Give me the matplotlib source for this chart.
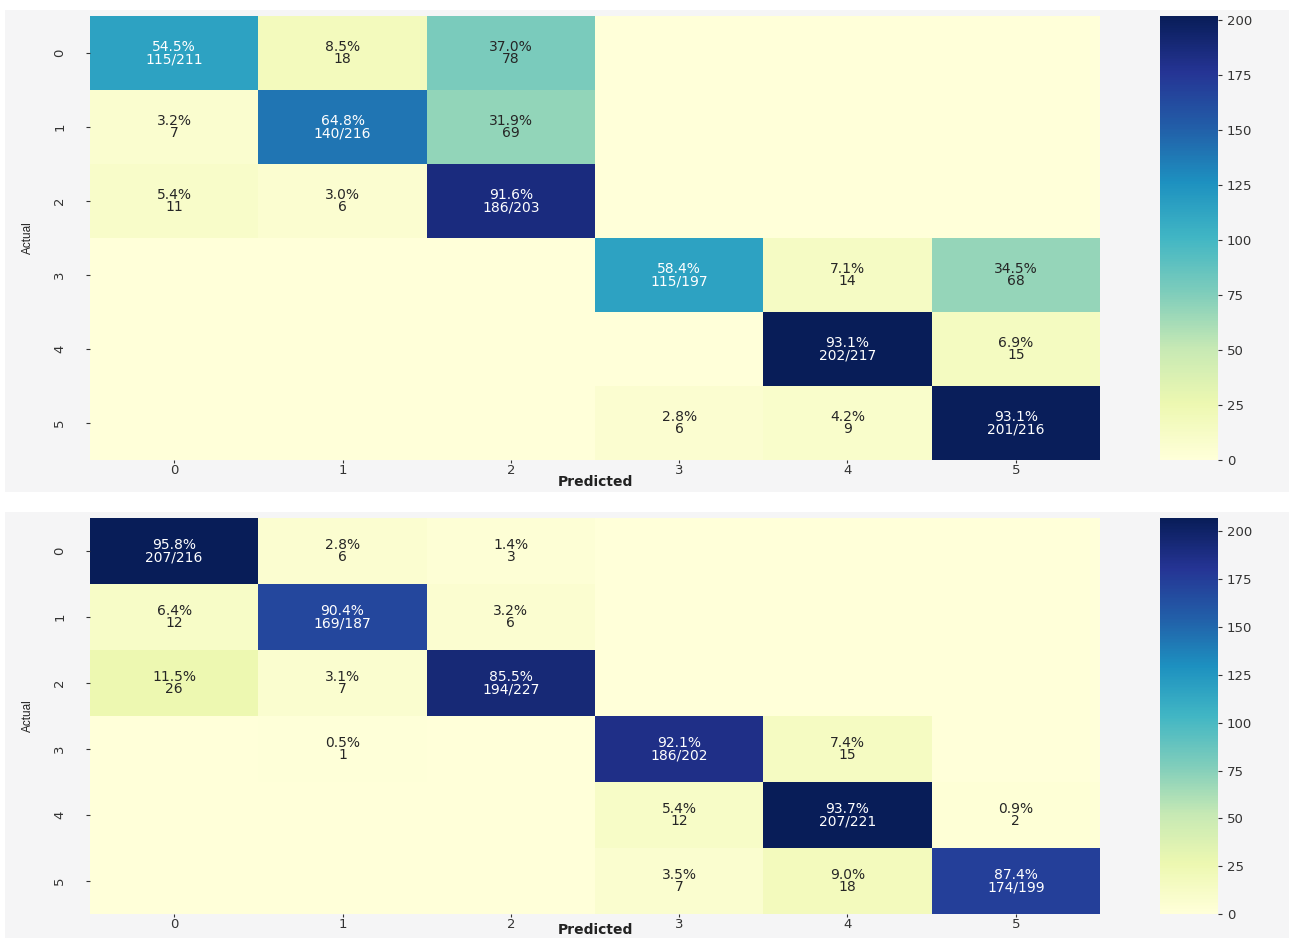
import numpy as np
import matplotlib
matplotlib.use("Agg")
import matplotlib.pyplot as plt
from matplotlib.patches import Rectangle
import seaborn as sns

# Class labels shared by both confusion matrices
classes = ["0", "1", "2", "3", "4", "5"]

# Confusion matrix counts (rows = actual, columns = predicted)
cm_first = [
    [115, 18, 78, 0, 0, 0],
    [7, 140, 69, 0, 0, 0],
    [11, 6, 186, 0, 0, 0],
    [0, 0, 0, 115, 14, 68],
    [0, 0, 0, 0, 202, 15],
    [0, 0, 0, 6, 9, 201],
]

cm_second = [
    [207, 6, 3, 0, 0, 0],
    [12, 169, 6, 0, 0, 0],
    [26, 7, 194, 0, 0, 0],
    [0, 1, 0, 186, 15, 0],
    [0, 0, 0, 12, 207, 2],
    [0, 0, 0, 7, 18, 174],
]


def cell_labels(cm):
    cm = np.asarray(cm)
    row_sums = cm.sum(axis=1, keepdims=True)
    pct = cm / row_sums * 100
    labels = np.empty(cm.shape, dtype=object)
    for i in range(cm.shape[0]):
        for j in range(cm.shape[1]):
            c = cm[i, j]
            if c == 0:
                labels[i, j] = ""
            elif i == j:
                labels[i, j] = f"{pct[i, j]:.1f}%\n{c}/{row_sums[i, 0]}"
            else:
                labels[i, j] = f"{pct[i, j]:.1f}%\n{c}"
    return labels


W, H = 1289, 938
fig = plt.figure(figsize=(W / 100, H / 100), dpi=100)
fig.patch.set_facecolor("white")


def fx(px):
    return px / W


def fy(py):
    return 1 - py / H


panel_bg = "#f5f5f6"
# Grey panel backgrounds
fig.patches.append(Rectangle((fx(5), fy(492)), 1 - fx(5), (492 - 10) / H,
                             transform=fig.transFigure, facecolor=panel_bg,
                             edgecolor="none", zorder=-10))
fig.patches.append(Rectangle((fx(5), 0), 1 - fx(5), (938 - 512) / H,
                             transform=fig.transFigure, facecolor=panel_bg,
                             edgecolor="none", zorder=-10))

# (matrix, heatmap top px, heatmap bottom px, x-label centre px)
panels = [
    (cm_first, 16, 460, 482),
    (cm_second, 518, 914, 930),
]

for cm, top, bottom, label_y in panels:
    ax = fig.add_axes([fx(90), fy(bottom), fx(1100) - fx(90), (bottom - top) / H])
    cax = fig.add_axes([fx(1160), fy(bottom), fx(1218) - fx(1160), (bottom - top) / H])
    arr = np.asarray(cm)
    sns.heatmap(arr, ax=ax, cbar_ax=cax, cmap="YlGnBu", vmin=0, vmax=arr.max(),
                annot=cell_labels(cm), fmt="",
                annot_kws={"size": 10, "linespacing": 0.85},
                xticklabels=classes, yticklabels=classes)
    ax.set_facecolor(panel_bg)
    ax.tick_params(axis="x", labelsize=9.5, colors="#333333", length=2, pad=1)
    ax.tick_params(axis="y", labelsize=9.5, colors="#333333", length=3, pad=14)
    ax.set_yticklabels(classes, rotation=90, va="center")
    ax.set_xticklabels(classes, rotation=0)
    ax.set_xlabel("")
    ax.set_ylabel("Actual", fontsize=8.5, color="#222222", labelpad=14,
                  family="Liberation Sans")
    fig.text(fx(595), fy(label_y), "Predicted", ha="center", va="center",
             fontsize=10, fontweight="bold", color="#222222")
    cax.set_yticks(np.arange(0, 201, 25))
    cax.tick_params(labelsize=9.5, colors="#333333", length=3)

fig.savefig("out.png", dpi=100, facecolor=fig.get_facecolor())
